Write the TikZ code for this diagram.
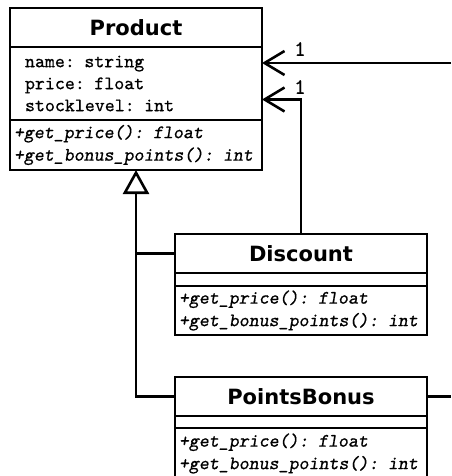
\documentclass[tikz,border=0pt]{standalone}
\usepackage{fontspec}
\usepackage{tikz}
\usetikzlibrary{arrows.meta}
\newfontfamily\umltitlefont{DejaVu Sans}
\newfontfamily\umlcodefont{lmmono10-regular.otf}[FakeBold=0.7, ItalicFont=lmmonoslant10-regular.otf, ItalicFeatures={FakeBold=0.7}]
\tikzset{
	umlbox/.style={draw, line width=2.6pt, minimum width=252pt, inner ysep=0pt, outer sep=0pt, anchor=north west},
	umltitle/.style={umlbox, minimum height=39pt, font=\umltitlefont\bfseries\fontsize{21}{24}\selectfont},
	umlattr/.style={umlbox, align=left, text width=222pt, inner xsep=15pt, font=\umlcodefont\fontsize{19}{22}\selectfont},
	umlop/.style={umlbox, align=left, text width=244pt, inner xsep=4pt, font=\umlcodefont\itshape\fontsize{19}{22.5}\selectfont},
	assoc/.style={line width=2.6pt, -{Straight Barb[length=20pt, width=24pt, line width=2.6pt]}},
	inherit/.style={line width=2.6pt, -{Triangle[open, length=24pt, width=26pt, line width=2.6pt, fill=white]}},
	mult/.style={font=\umlcodefont\fontsize{22}{24}\selectfont, inner sep=0pt}
}
\begin{document}
\begin{tikzpicture}[x=1pt, y=-1pt]
	\useasboundingbox (0,0) rectangle (451,476);

	\node[umltitle] (prodT) at (10,8) {Product};
	\node[umlattr, minimum height=73pt] (prodA) at (prodT.south west) {name: string\\price: float\\stocklevel: int};
	\node[umlop, minimum height=50pt] (prodM) at (prodA.south west) {+get\_price(): float\\+get\_bonus\_points(): int};

	\node[umltitle] (discT) at (175,234) {Discount};
	\node[umlattr, minimum height=13pt] (discA) at (discT.south west) {};
	\node[umlop, minimum height=49pt] (discM) at (discA.south west) {+get\_price(): float\\+get\_bonus\_points(): int};

	\node[umltitle] (pbT) at (175,377) {PointsBonus};
	\node[umlattr, minimum height=12pt] (pbA) at (pbT.south west) {};
	\node[umlop, minimum height=51pt] (pbM) at (pbA.south west) {+get\_price(): float\\+get\_bonus\_points(): int};

	\coordinate (edgeA) at (451,63);
	\coordinate (edgeB) at (451,395);

	\draw[assoc] (edgeA) -- (edgeA -| prodA.east);
	\draw[assoc] (discT.north) |- ([yshift=-16pt]prodA.east);
	\node[mult] (multA) at (300,49) {1};
	\node[mult] (multB) at (300,87) {1};

	\draw[inherit] (pbT.west) -| (prodM.south);
	\draw[line width=2.6pt] (discT.west) -- (discT.west -| prodM.south);
	\draw[line width=2.6pt] (pbT.east) -- (pbT.east -| edgeB);
\end{tikzpicture}
\end{document}
